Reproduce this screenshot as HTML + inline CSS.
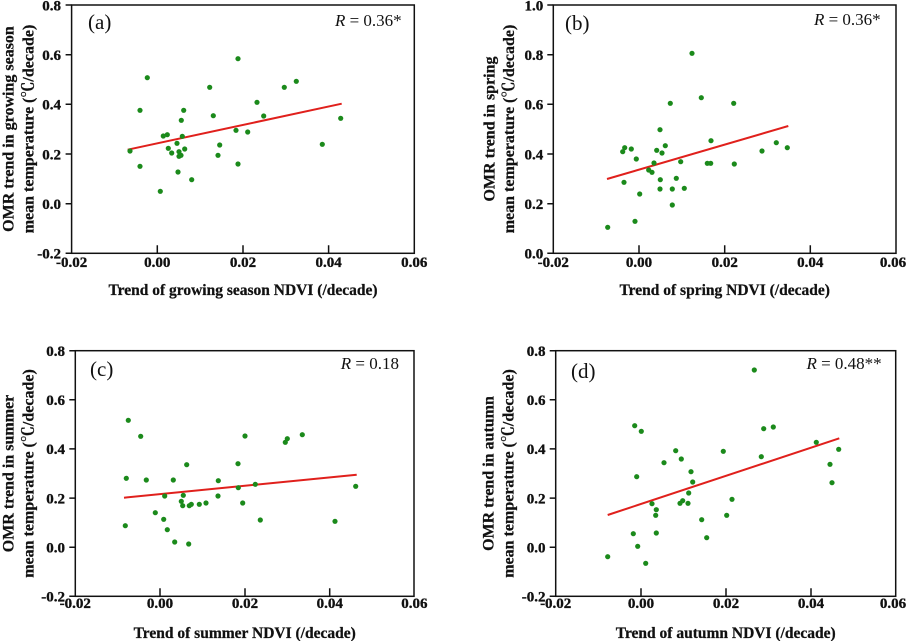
<!DOCTYPE html>
<html>
<head>
<meta charset="utf-8">
<style>
html,body{margin:0;padding:0;background:#fff;}
svg{display:block;}
.ax{fill:none;stroke:#111;stroke-width:1.5;}
.dot{fill:#1b8a1b;}
.reg{stroke:#e0201c;stroke-width:2;fill:none;}
</style>
</head>
<body>
<svg width="909" height="641" viewBox="0 0 909 641" xmlns="http://www.w3.org/2000/svg" font-family="'Liberation Serif', 'Noto Serif CJK SC', serif" fill="#111">
<rect width="909" height="641" fill="#fff"/>

<!-- ================= Panel (a) ================= -->
<g>
<rect class="ax" x="71.6" y="5" width="342.7" height="248.3"/>
<path class="ax" d="M65.6 5H71.6M65.6 54.7H71.6M65.6 104.3H71.6M65.6 154H71.6M65.6 203.7H71.6M65.6 253.3H71.6"/>
<path class="ax" d="M157.3 253.3V245.3M243 253.3V245.3M328.6 253.3V245.3"/>
<g style="font-family:'Liberation Serif',serif;font-weight:700;font-size:15px" text-anchor="end" fill="#111" stroke="#111" stroke-width="0.35">
<text x="61" y="10.3">0.8</text>
<text x="61" y="60">0.6</text>
<text x="61" y="109.6">0.4</text>
<text x="61" y="159.3">0.2</text>
<text x="61" y="209">0.0</text>
<text x="61" y="258.6">-0.2</text>
</g>
<g style="font-family:'Liberation Serif',serif;font-weight:700;font-size:15px" text-anchor="middle" fill="#111" stroke="#111" stroke-width="0.35">
<text x="71.6" y="267">-0.02</text>
<text x="157.3" y="267">0.00</text>
<text x="243" y="267">0.02</text>
<text x="328.6" y="267">0.04</text>
<text x="414.3" y="267">0.06</text>
</g>
<g style="font-family:'Liberation Serif','Noto Serif CJK SC',serif;font-weight:700" fill="#111" stroke="#111" stroke-width="0.25" text-anchor="middle">
<text style="font-size:15.5px" x="243" y="295">Trend of growing season NDVI (/decade)</text>
<text style="font-size:16px" transform="translate(13.3,129) rotate(-90)">OMR trend in growing season</text>
<text style="font-size:16px" transform="translate(33.3,129) rotate(-90)">mean temperature (℃/decade)</text>
</g>
<text style="font-family:'Liberation Serif',serif;font-size:21px;font-weight:400" fill="#111" x="88" y="29">(a)</text>
<text style="font-family:'Liberation Serif',serif;font-size:17px;font-weight:400" fill="#111" x="401.7" y="26" text-anchor="end"><tspan font-style="italic">R</tspan> = 0.36*</text>
<line class="reg" x1="127.7" y1="149.7" x2="341.7" y2="103.7"/>
<g class="dot">
<circle cx="130" cy="151" r="2.6"/><circle cx="140" cy="110.3" r="2.6"/><circle cx="140" cy="166.3" r="2.6"/>
<circle cx="147.3" cy="77.7" r="2.6"/><circle cx="160.3" cy="191.3" r="2.6"/><circle cx="163.3" cy="136" r="2.6"/>
<circle cx="167.3" cy="134.7" r="2.6"/><circle cx="168.3" cy="148.3" r="2.6"/><circle cx="171.7" cy="153" r="2.6"/>
<circle cx="177" cy="143.3" r="2.6"/><circle cx="178" cy="172" r="2.6"/><circle cx="179" cy="151.7" r="2.6"/>
<circle cx="179" cy="156.3" r="2.6"/><circle cx="181" cy="155.3" r="2.6"/><circle cx="181.3" cy="120.3" r="2.6"/>
<circle cx="182.3" cy="136.3" r="2.6"/><circle cx="183.7" cy="110.3" r="2.6"/><circle cx="184.7" cy="149" r="2.6"/>
<circle cx="191.7" cy="179.7" r="2.6"/><circle cx="209.7" cy="87.3" r="2.6"/><circle cx="213.3" cy="115.7" r="2.6"/>
<circle cx="218" cy="155.3" r="2.6"/><circle cx="219.7" cy="145" r="2.6"/><circle cx="236" cy="130.3" r="2.6"/>
<circle cx="238" cy="58.7" r="2.6"/><circle cx="238" cy="164" r="2.6"/><circle cx="247.7" cy="132" r="2.6"/>
<circle cx="257" cy="102.3" r="2.6"/><circle cx="263.7" cy="116" r="2.6"/><circle cx="284.3" cy="87.3" r="2.6"/>
<circle cx="296.3" cy="81.3" r="2.6"/><circle cx="322.3" cy="144.3" r="2.6"/><circle cx="340.7" cy="118.3" r="2.6"/>
</g>
</g>

<!-- ================= Panel (b) ================= -->
<g>
<rect class="ax" x="553.3" y="5" width="342.7" height="248.3"/>
<path class="ax" d="M547.3 5H553.3M547.3 54.7H553.3M547.3 104.3H553.3M547.3 154H553.3M547.3 203.7H553.3M547.3 253.3H553.3"/>
<path class="ax" d="M639 253.3V245.3M724.7 253.3V245.3M810.3 253.3V245.3"/>
<g style="font-family:'Liberation Serif',serif;font-weight:700;font-size:15px" text-anchor="end" fill="#111" stroke="#111" stroke-width="0.35">
<text x="543.3" y="10.3">1.0</text>
<text x="543.3" y="60">0.8</text>
<text x="543.3" y="109.6">0.6</text>
<text x="543.3" y="159.3">0.4</text>
<text x="543.3" y="209">0.2</text>
<text x="543.3" y="258.6">0.0</text>
</g>
<g style="font-family:'Liberation Serif',serif;font-weight:700;font-size:15px" text-anchor="middle" fill="#111" stroke="#111" stroke-width="0.35">
<text x="553.3" y="267">-0.02</text>
<text x="639" y="267">0.00</text>
<text x="724.7" y="267">0.02</text>
<text x="810.3" y="267">0.04</text>
<text x="893" y="267">0.06</text>
</g>
<g style="font-family:'Liberation Serif','Noto Serif CJK SC',serif;font-weight:700" fill="#111" stroke="#111" stroke-width="0.25" text-anchor="middle">
<text style="font-size:15.5px" x="724.7" y="295">Trend of spring NDVI (/decade)</text>
<text style="font-size:16px" transform="translate(494.3,129) rotate(-90)">OMR trend in spring</text>
<text style="font-size:16px" transform="translate(513.8,129) rotate(-90)">mean temperature (℃/decade)</text>
</g>
<text style="font-family:'Liberation Serif',serif;font-size:21px;font-weight:400" fill="#111" x="565" y="30">(b)</text>
<text style="font-family:'Liberation Serif',serif;font-size:17px;font-weight:400" fill="#111" x="880.7" y="25" text-anchor="end"><tspan font-style="italic">R</tspan> = 0.36*</text>
<line class="reg" x1="607" y1="179" x2="788.3" y2="126"/>
<g class="dot">
<circle cx="607.7" cy="227.3" r="2.6"/><circle cx="622.7" cy="151.7" r="2.6"/><circle cx="624.7" cy="147.7" r="2.6"/>
<circle cx="624" cy="182.3" r="2.6"/><circle cx="631.3" cy="149" r="2.6"/><circle cx="635" cy="221.3" r="2.6"/>
<circle cx="636.3" cy="159" r="2.6"/><circle cx="639.7" cy="194" r="2.6"/><circle cx="648.7" cy="170" r="2.6"/>
<circle cx="652" cy="172.3" r="2.6"/><circle cx="654" cy="163" r="2.6"/><circle cx="656.7" cy="150.3" r="2.6"/>
<circle cx="660" cy="129.7" r="2.6"/><circle cx="660.3" cy="179.7" r="2.6"/><circle cx="660" cy="189" r="2.6"/>
<circle cx="662" cy="153" r="2.6"/><circle cx="665.3" cy="145.7" r="2.6"/><circle cx="670.3" cy="103.3" r="2.6"/>
<circle cx="672.3" cy="189" r="2.6"/><circle cx="672.3" cy="205" r="2.6"/><circle cx="676.3" cy="178.3" r="2.6"/>
<circle cx="680.7" cy="161.7" r="2.6"/><circle cx="684.3" cy="188.3" r="2.6"/><circle cx="692" cy="53.3" r="2.6"/>
<circle cx="701.3" cy="97.7" r="2.6"/><circle cx="707.3" cy="163.3" r="2.6"/><circle cx="710.7" cy="163.3" r="2.6"/>
<circle cx="711" cy="140.7" r="2.6"/><circle cx="733.7" cy="103.3" r="2.6"/><circle cx="734.3" cy="164" r="2.6"/>
<circle cx="762" cy="151" r="2.6"/><circle cx="776.3" cy="142.7" r="2.6"/><circle cx="787.3" cy="147.7" r="2.6"/>
</g>
</g>

<!-- ================= Panel (c) ================= -->
<g>
<rect class="ax" x="75.3" y="350.7" width="338.7" height="245.6"/>
<path class="ax" d="M69.3 350.7H75.3M69.3 399.8H75.3M69.3 448.9H75.3M69.3 498.1H75.3M69.3 547.2H75.3M69.3 596.3H75.3"/>
<path class="ax" d="M160 596.3V588.3M245 596.3V588.3M329.7 596.3V588.3"/>
<g style="font-family:'Liberation Serif',serif;font-weight:700;font-size:15px" text-anchor="end" fill="#111" stroke="#111" stroke-width="0.35">
<text x="65" y="356">0.8</text>
<text x="65" y="405.1">0.6</text>
<text x="65" y="454.2">0.4</text>
<text x="65" y="503.4">0.2</text>
<text x="65" y="552.5">0.0</text>
<text x="65" y="601.6">-0.2</text>
</g>
<g style="font-family:'Liberation Serif',serif;font-weight:700;font-size:15px" text-anchor="middle" fill="#111" stroke="#111" stroke-width="0.35">
<text x="75.3" y="608">-0.02</text>
<text x="160" y="608">0.00</text>
<text x="245" y="608">0.02</text>
<text x="329.7" y="608">0.04</text>
<text x="414.4" y="608">0.06</text>
</g>
<g style="font-family:'Liberation Serif','Noto Serif CJK SC',serif;font-weight:700" fill="#111" stroke="#111" stroke-width="0.25" text-anchor="middle">
<text style="font-size:15.5px" x="244.7" y="638">Trend of summer NDVI (/decade)</text>
<text style="font-size:16px" transform="translate(13.3,473.5) rotate(-90)">OMR trend in summer</text>
<text style="font-size:16px" transform="translate(33.3,473.5) rotate(-90)">mean temperature (℃/decade)</text>
</g>
<text style="font-family:'Liberation Serif',serif;font-size:21px;font-weight:400" fill="#111" x="90" y="376">(c)</text>
<text style="font-family:'Liberation Serif',serif;font-size:17px;font-weight:400" fill="#111" x="399" y="369" text-anchor="end"><tspan font-style="italic">R</tspan> = 0.18</text>
<line class="reg" x1="124" y1="497.7" x2="356.7" y2="474.7"/>
<g class="dot">
<circle cx="125.3" cy="525.7" r="2.6"/><circle cx="126.3" cy="478.3" r="2.6"/><circle cx="128.3" cy="420.3" r="2.6"/>
<circle cx="140.7" cy="436.3" r="2.6"/><circle cx="146.3" cy="480" r="2.6"/><circle cx="155.3" cy="512.7" r="2.6"/>
<circle cx="163.7" cy="519.3" r="2.6"/><circle cx="164.7" cy="496" r="2.6"/><circle cx="167.3" cy="529.7" r="2.6"/>
<circle cx="173.3" cy="480" r="2.6"/><circle cx="174.7" cy="542" r="2.6"/><circle cx="181.3" cy="501.3" r="2.6"/>
<circle cx="182.7" cy="505.7" r="2.6"/><circle cx="183.3" cy="495.3" r="2.6"/><circle cx="186.7" cy="464.7" r="2.6"/>
<circle cx="188.7" cy="544" r="2.6"/><circle cx="189.3" cy="505.7" r="2.6"/><circle cx="191.3" cy="504.3" r="2.6"/>
<circle cx="199.3" cy="504.3" r="2.6"/><circle cx="206" cy="503" r="2.6"/><circle cx="218" cy="496" r="2.6"/>
<circle cx="218.3" cy="480.7" r="2.6"/><circle cx="238" cy="463.7" r="2.6"/><circle cx="238.3" cy="487.7" r="2.6"/>
<circle cx="242.7" cy="503" r="2.6"/><circle cx="245" cy="436" r="2.6"/><circle cx="255.3" cy="484.3" r="2.6"/>
<circle cx="260.3" cy="520" r="2.6"/><circle cx="285.3" cy="442.3" r="2.6"/><circle cx="287.3" cy="438.7" r="2.6"/>
<circle cx="302.3" cy="434.7" r="2.6"/><circle cx="335" cy="521.3" r="2.6"/><circle cx="355.7" cy="486.3" r="2.6"/>
</g>
</g>

<!-- ================= Panel (d) ================= -->
<g>
<rect class="ax" x="555.7" y="350.7" width="340" height="245.6"/>
<path class="ax" d="M549.7 350.7H555.7M549.7 399.8H555.7M549.7 448.9H555.7M549.7 498.1H555.7M549.7 547.2H555.7M549.7 596.3H555.7"/>
<path class="ax" d="M641 596.3V588.3M726 596.3V588.3M811 596.3V588.3"/>
<g style="font-family:'Liberation Serif',serif;font-weight:700;font-size:15px" text-anchor="end" fill="#111" stroke="#111" stroke-width="0.35">
<text x="545.5" y="356">0.8</text>
<text x="545.5" y="405.1">0.6</text>
<text x="545.5" y="454.2">0.4</text>
<text x="545.5" y="503.4">0.2</text>
<text x="545.5" y="552.5">0.0</text>
<text x="545.5" y="601.6">-0.2</text>
</g>
<g style="font-family:'Liberation Serif',serif;font-weight:700;font-size:15px" text-anchor="middle" fill="#111" stroke="#111" stroke-width="0.35">
<text x="555.7" y="608">-0.02</text>
<text x="641" y="608">0.00</text>
<text x="726" y="608">0.02</text>
<text x="811" y="608">0.04</text>
<text x="893" y="608">0.06</text>
</g>
<g style="font-family:'Liberation Serif','Noto Serif CJK SC',serif;font-weight:700" fill="#111" stroke="#111" stroke-width="0.25" text-anchor="middle">
<text style="font-size:15.5px" x="725.7" y="638">Trend of autumn NDVI (/decade)</text>
<text style="font-size:16px" transform="translate(493.5,473.5) rotate(-90)">OMR trend in autumn</text>
<text style="font-size:16px" transform="translate(513.5,473.5) rotate(-90)">mean temperature (℃/decade)</text>
</g>
<text style="font-family:'Liberation Serif',serif;font-size:21px;font-weight:400" fill="#111" x="571" y="378">(d)</text>
<text style="font-family:'Liberation Serif',serif;font-size:17px;font-weight:400" fill="#111" x="881.7" y="369" text-anchor="end"><tspan font-style="italic">R</tspan> = 0.48**</text>
<line class="reg" x1="607.7" y1="515" x2="839.3" y2="438.3"/>
<g class="dot">
<circle cx="607.7" cy="556.7" r="2.6"/><circle cx="633.3" cy="533.7" r="2.6"/><circle cx="634.7" cy="425.7" r="2.6"/>
<circle cx="636.7" cy="476.7" r="2.6"/><circle cx="637.7" cy="546.3" r="2.6"/><circle cx="641.3" cy="431.3" r="2.6"/>
<circle cx="645.7" cy="563.3" r="2.6"/><circle cx="652" cy="503.7" r="2.6"/><circle cx="655.7" cy="515.3" r="2.6"/>
<circle cx="656.3" cy="509.7" r="2.6"/><circle cx="656.3" cy="533" r="2.6"/><circle cx="664" cy="462.7" r="2.6"/>
<circle cx="675.7" cy="450.7" r="2.6"/><circle cx="680" cy="503.3" r="2.6"/><circle cx="681.3" cy="459" r="2.6"/>
<circle cx="682.7" cy="500.7" r="2.6"/><circle cx="688" cy="503.3" r="2.6"/><circle cx="688.7" cy="493" r="2.6"/>
<circle cx="691" cy="471.7" r="2.6"/><circle cx="692.7" cy="482" r="2.6"/><circle cx="701.7" cy="519.7" r="2.6"/>
<circle cx="706.7" cy="537.7" r="2.6"/><circle cx="723.3" cy="451.3" r="2.6"/><circle cx="726.7" cy="515.3" r="2.6"/>
<circle cx="732" cy="499.3" r="2.6"/><circle cx="754.3" cy="370" r="2.6"/><circle cx="761.3" cy="456.7" r="2.6"/>
<circle cx="763.7" cy="428.7" r="2.6"/><circle cx="773.3" cy="427" r="2.6"/><circle cx="816.3" cy="442.3" r="2.6"/>
<circle cx="830" cy="464.3" r="2.6"/><circle cx="832" cy="482.7" r="2.6"/><circle cx="838.7" cy="449.3" r="2.6"/>
</g>
</g>
</svg>
</body>
</html>
